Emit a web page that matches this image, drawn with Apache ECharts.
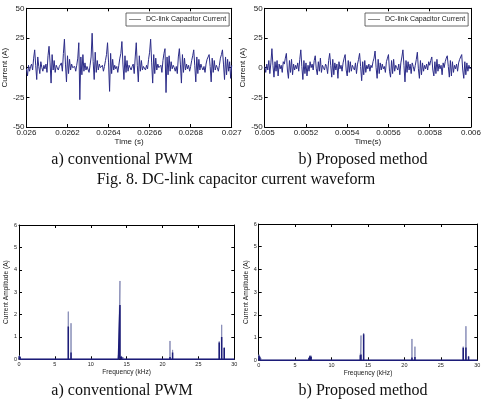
<!DOCTYPE html>
<html>
<head>
<meta charset="utf-8">
<script src="https://cdn.jsdelivr.net/npm/echarts@6/dist/echarts.min.js"></script>
<style>
  html, body { margin: 0; padding: 0; background: #fff; }
  #chart { width: 484px; height: 414px; }
</style>
</head>
<body>
<div id="chart"></div>
<script>
// 时域波形：采样起点与步长（5 µs）
const legendName = "DC-link Capacitor Current";
const stepA = 0.000005;
const startA = 0.026;
const startB = 0.005;

// a) conventional PWM 电容电流 (A)
const currentA = [
  -1, -7, 2, -3, 1, 3, -2, 8, 15, 2,
  -10, 9, 1, -5, 5, 0, -3, 2, -1, 3,
  -4, 10, 18, 4, -13, 11, -2, 6, -4, 2,
  0, -2, 1, 0, 4, -3, 12, 24, 3, -12,
  10, -5, 7, -2, 3, 0, -1, 1, -3, 2,
  8, 21, -27, 9, -6, 11, -3, 4, -2, 1,
  0, -4, 2, 9, 29, 5, -10, 13, -4, 6,
  -2, 3, 0, -1, 2, -3, 1, 6, 11, 21,
  4, -20, 12, -5, 7, -2, 2, -1, 1, -4,
  2, 8, 12, 22, 3, -10, 10, -4, 6, -3,
  2, 0, -2, 1, 3, -5, 9, 21, 2, -12,
  10, -3, 6, -2, 1, 0, -2, 2, -1, 7,
  13, 24, 4, -13, 11, -5, 8, -2, 3, 0,
  -1, 2, -4, 6, 12, 16, -21, 9, -6, 10,
  -3, 5, -1, 2, 0, -3, 1, -5, 9, 16,
  3, -13, 11, -4, 8, -2, 3, -1, 2, -3,
  1, 6, 10, 15, 2, -12, 9, -5, 7, -2,
  3, 0, -2, 1, -4, 3, 7, 9, 11, 1,
  -12, 8, -4, 6, -2, 2, 0, -3, 2, 8,
  11, 15, 3, -10, 9, -6, 7, -3, 5, -9,
  2
];

// b) Proposed method 电容电流 (A)
const currentB = [
  1, -4, 3, -2, 6, -5, 4, 16, 2, -8,
  5, -3, 6, -7, 3, -1, 2, -4, 5, 3,
  8, 12, -2, -9, 6, -4, 7, -6, 3, -2,
  2, -1, 4, -3, 7, 15, 1, -10, 6, -5,
  4, -7, 2, -3, 5, 0, 3, -2, 6, 10,
  -1, -6, 5, -3, 8, -4, 2, 0, -2, 3,
  1, -5, 6, 12, 2, -8, 7, -6, 4, -2,
  3, -9, 5, -1, 2, -3, 4, 8, 11, -2,
  -7, 6, -4, 5, -3, 2, 0, -2, 4, -5,
  3, 7, 12, 1, -11, 5, -6, 6, -4, 2,
  -1, 3, -3, 2, 0, 5, 8, 14, 0, -9,
  7, -5, 4, -2, 3, -1, 1, -4, 5, 8,
  11, -3, -8, 6, -5, 7, -3, 2, 0, -2,
  3, -6, 4, 9, 15, 2, -12, 6, -4, 5,
  -2, 3, -5, 4, 1, -3, 2, 7, 13, -1,
  -9, 6, -6, 4, -3, 2, -1, 3, -2, 5,
  2, 6, 9, -2, -7, 5, -5, 7, -3, 3,
  -1, 2, -6, 4, 0, 5, 8, 10, 1, -8,
  6, -7, 5, -4, 2, -1, 3, -3, 4, 7,
  6, 11, -2, -9, 5, -6, 4, -3, 2, -1,
  0
];

// 频谱：频率 (kHz)、幅值 (A)
const specAFreq = [0.05, 0.15, 0.3, 0.45, 6.87, 7.0, 7.25, 13.85, 14.07, 14.3, 14.5, 21.04, 21.4, 27.9, 28.24, 28.6];
const specAAmp = [0.16, 0.13, 0.08, 0.05, 2.13, 0.08, 1.61, 0.18, 3.5, 0.15, 0.1, 0.82, 0.42, 0.8, 1.54, 0.54];
const specADark = [0.14, 0.1, 0.06, 0.04, 1.46, 0.06, 0.3, 0.1, 2.43, 0.1, 0.06, 0.1, 0.3, 0.75, 1.0, 0.5];

const specBFreq = [0.05, 0.15, 0.3, 0.5, 6.9, 7.05, 7.2, 7.4, 13.95, 14.04, 14.4, 21.03, 21.44, 28.07, 28.44, 28.8];
const specBAmp = [0.25, 0.18, 0.1, 0.05, 0.12, 0.22, 0.2, 0.08, 0.3, 1.09, 1.2, 0.94, 0.6, 0.6, 1.5, 0.19];
const specBDark = [0.2, 0.15, 0.08, 0.04, 0.1, 0.18, 0.16, 0.06, 0.22, 0.25, 1.15, 0.12, 0.15, 0.55, 0.56, 0.17];

const sans = "Liberation Sans, Arial, sans-serif";
const serif = "Liberation Serif, Times New Roman, serif";

function timeSeries(start, values) {
  return values.map((v, i) => [start + i * stepA, v]);
}

// 竖线谱：每个频点画一根从 0 起的竖线
function spikes(freqs, amps) {
  const pts = [[0, 0]];
  freqs.forEach((f, i) => {
    pts.push([f, 0], [f, amps[i]], [f, 0]);
  });
  pts.push([30, 0]);
  return pts;
}

// 每个子图：下/左主轴 + 上/右镜像轴（MATLAB 风格边框）
function makeAxes(g, x, y) {
  const line = { show: true, onZero: false, lineStyle: { color: "#000", width: 1 } };
  const tick = { show: true, inside: true, length: 3, lineStyle: { color: "#000" } };
  const xs = [
    {
      gridIndex: g, type: "value", min: x.min, max: x.max, interval: x.interval,
      position: "bottom", axisLine: line, axisTick: tick, splitLine: { show: false },
      axisLabel: { fontSize: x.fontSize, color: "#222", fontFamily: sans, margin: x.margin, formatter: x.fmt },
      name: x.name, nameLocation: "middle", nameGap: x.nameGap,
      nameTextStyle: { fontSize: x.nameSize, color: "#222", fontFamily: sans }
    },
    {
      gridIndex: g, type: "value", min: x.min, max: x.max, interval: x.interval,
      position: "top", axisLine: line, axisTick: tick, splitLine: { show: false },
      axisLabel: { show: false }
    }
  ];
  const ys = [
    {
      gridIndex: g, type: "value", min: y.min, max: y.max, interval: y.interval,
      position: "left", axisLine: line, axisTick: tick, splitLine: { show: false },
      axisLabel: { fontSize: y.fontSize, color: "#222", fontFamily: sans, margin: y.margin },
      name: y.name, nameLocation: "middle", nameGap: y.nameGap, nameRotate: 90,
      nameTextStyle: { fontSize: y.nameSize, color: "#222", fontFamily: sans }
    },
    {
      gridIndex: g, type: "value", min: y.min, max: y.max, interval: y.interval,
      position: "right", axisLine: line, axisTick: tick, splitLine: { show: false },
      axisLabel: { show: false }
    }
  ];
  return { xs, ys };
}

const fmtTime = (v) => String(+v.toFixed(4));

const ax = [
  makeAxes(0,
    { min: 0.026, max: 0.027, interval: 0.0002, fontSize: 8, margin: 2, fmt: fmtTime, name: "Time (s)", nameGap: 11, nameSize: 8 },
    { min: -50, max: 50, interval: 25, fontSize: 8, margin: 2, name: "Current (A)", nameGap: 9, nameSize: 8 }),
  makeAxes(1,
    { min: 0.005, max: 0.006, interval: 0.0002, fontSize: 8, margin: 2, fmt: fmtTime, name: "Time(s)", nameGap: 11, nameSize: 8 },
    { min: -50, max: 50, interval: 25, fontSize: 8, margin: 2, name: "Current (A)", nameGap: 9, nameSize: 8 }),
  makeAxes(2,
    { min: 0, max: 30, interval: 5, fontSize: 5.5, margin: 2, name: "Frequency (kHz)", nameGap: 8, nameSize: 6.6 },
    { min: 0, max: 6, interval: 1, fontSize: 5.5, margin: 2, name: "Current Amplitude (A)", nameGap: 5, nameSize: 6.6 }),
  makeAxes(3,
    { min: 0, max: 30, interval: 5, fontSize: 5.5, margin: 2, name: "Frequency (kHz)", nameGap: 8, nameSize: 6.6 },
    { min: 0, max: 6, interval: 1, fontSize: 5.5, margin: 2, name: "Current Amplitude (A)", nameGap: 6, nameSize: 6.6 })
];

const xAxes = [].concat(...ax.map((a) => a.xs));
const yAxes = [].concat(...ax.map((a) => a.ys));

function legendAt(left) {
  return {
    show: true, left: left, top: 13, orient: "horizontal",
    padding: [3, 3], itemWidth: 12, itemHeight: 1, itemGap: 3,
    borderColor: "#444", borderWidth: 0.8, backgroundColor: "#fff",
    selectedMode: false, icon: "rect",
    itemStyle: { color: "#888" },
    textStyle: { fontSize: 7, color: "#222", fontFamily: sans },
    data: [legendName]
  };
}

function caption(text, x, top) {
  return {
    text: text, left: x, top: top, textAlign: "center", padding: 0,
    textStyle: { fontFamily: serif, fontSize: 16, fontWeight: "normal", color: "#111" }
  };
}

const chart = echarts.init(document.getElementById("chart"), null, { renderer: "canvas" });

chart.setOption({
  animation: false,
  backgroundColor: "#fff",
  title: [
    caption("a) conventional PWM", 122, 152),
    caption("b) Proposed method", 363, 152),
    caption("Fig. 8. DC-link capacitor current waveform", 236, 172),
    caption("a) conventional PWM", 122, 383),
    caption("b) Proposed method", 363, 383)
  ],
  legend: [legendAt(126), legendAt(365)],
  grid: [
    { left: 22.7, top: 8.3, width: 209, height: 118.7 },
    { left: 264.7, top: 8.3, width: 206.3, height: 118.7 },
    { left: 19, top: 225, width: 215.3, height: 134.3 },
    { left: 258.7, top: 224, width: 218.6, height: 136.3 }
  ],
  xAxis: xAxes,
  yAxis: yAxes,
  series: [
    {
      name: legendName, type: "line", xAxisIndex: 0, yAxisIndex: 0,
      data: timeSeries(startA, currentA), symbol: "none",
      lineStyle: { color: "#2c2c88", width: 1 }
    },
    {
      name: legendName, type: "line", xAxisIndex: 2, yAxisIndex: 2,
      data: timeSeries(startB, currentB), symbol: "none",
      lineStyle: { color: "#2c2c88", width: 1 }
    },
    {
      name: "specA", type: "line", xAxisIndex: 4, yAxisIndex: 4,
      data: spikes(specAFreq, specAAmp), symbol: "none",
      lineStyle: { color: "#8a8fb8", width: 1 }
    },
    {
      name: "specADark", type: "line", xAxisIndex: 4, yAxisIndex: 4,
      data: spikes(specAFreq, specADark), symbol: "none",
      lineStyle: { color: "#1c1c78", width: 1.5 }
    },
    {
      name: "specB", type: "line", xAxisIndex: 6, yAxisIndex: 6,
      data: spikes(specBFreq, specBAmp), symbol: "none",
      lineStyle: { color: "#8a8fb8", width: 1 }
    },
    {
      name: "specBDark", type: "line", xAxisIndex: 6, yAxisIndex: 6,
      data: spikes(specBFreq, specBDark), symbol: "none",
      lineStyle: { color: "#1c1c78", width: 1.5 }
    }
  ]
});
</script>
</body>
</html>
